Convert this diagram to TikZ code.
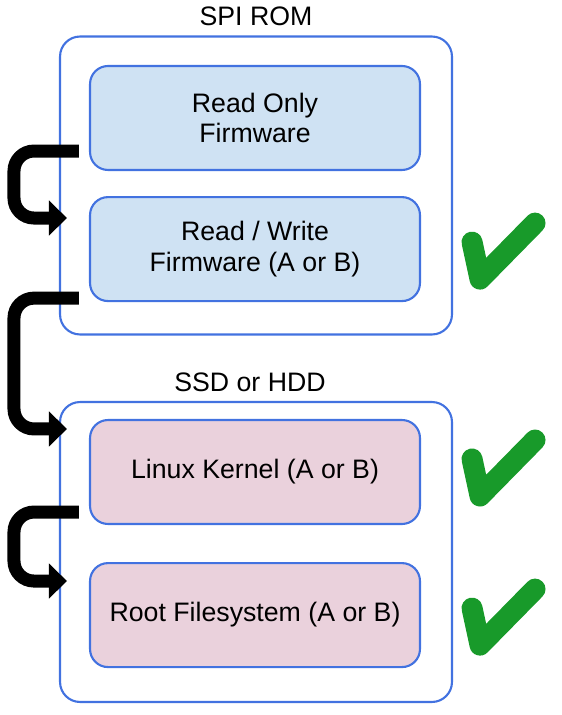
\documentclass[tikz,border=0pt]{standalone}
\usepackage{fontspec}
\setmainfont{Liberation Sans}
\usepackage{tikz}
\usetikzlibrary{arrows.meta,positioning,calc}
\definecolor{boxblue}{HTML}{4272E0}
\definecolor{romfill}{HTML}{CFE2F3}
\definecolor{diskfill}{HTML}{EAD1DC}
\definecolor{okgreen}{HTML}{189A2A}

\begin{document}
\begin{tikzpicture}[
  x=0.02cm, y=-0.02cm,
  font=\fontsize{15.2}{17.5}\selectfont,
  outer/.style={rectangle, rounded corners=0.4cm, draw=boxblue, line width=1.2pt, minimum width=7.84cm},
  part/.style={rectangle, rounded corners=0.36cm, draw=boxblue, line width=1.2pt, minimum width=6.6cm, minimum height=2.08cm, align=center},
  title/.style={inner sep=0pt},
  flow/.style={-{Triangle[length=0.36cm, width=0.68cm]}, line width=0.26cm, rounded corners=0.4cm},
  okmark/.pic={\draw[okgreen, line width=0.42cm, line cap=round, line join=round] (0,0) -- (8,37) -- (63,-19);}
]
\useasboundingbox (0,0) rectangle (561,715);
\node[outer, minimum height=5.96cm] (rom) at (256,185.5) {};
\node[outer, minimum height=6cm] (disk) at (256,552) {};
\node[title] (romtitle) at ($(rom.north)+(0,-19)$) {SPI ROM};
\node[title] (disktitle) at ($(disk.north)+(-6,-19)$) {SSD or HDD};
\node[part, fill=romfill] (ro) at (255,118) {Read Only\\Firmware};
\node[part, fill=romfill, below=0.5cm of ro] (rw) {Read / Write\\Firmware (A or B)};
\node[part, fill=diskfill] (kernel) at (255,472) {Linux Kernel (A or B)};
\node[part, fill=diskfill, below=0.74cm of kernel] (rootfs) {Root Filesystem (A or B)};
\draw[flow] ($(ro.south west)+(-10,-20)$) -- ++(-65,0) |- ($(rw.north west)+(-22,22)$);
\draw[flow] ($(rw.south west)+(-10,-4)$) -- ++(-65,0) |- ($(kernel.north west)+(-22,10)$);
\draw[flow] ($(kernel.south west)+(-10,-13)$) -- ++(-65,0) |- ($(rootfs.north west)+(-22,19)$);
\pic at ($(rw.east)+(51,-7)$) {okmark};
\pic at ($(kernel.east)+(51,-13)$) {okmark};
\pic at ($(rootfs.east)+(51,-7)$) {okmark};
\end{tikzpicture}
\end{document}
